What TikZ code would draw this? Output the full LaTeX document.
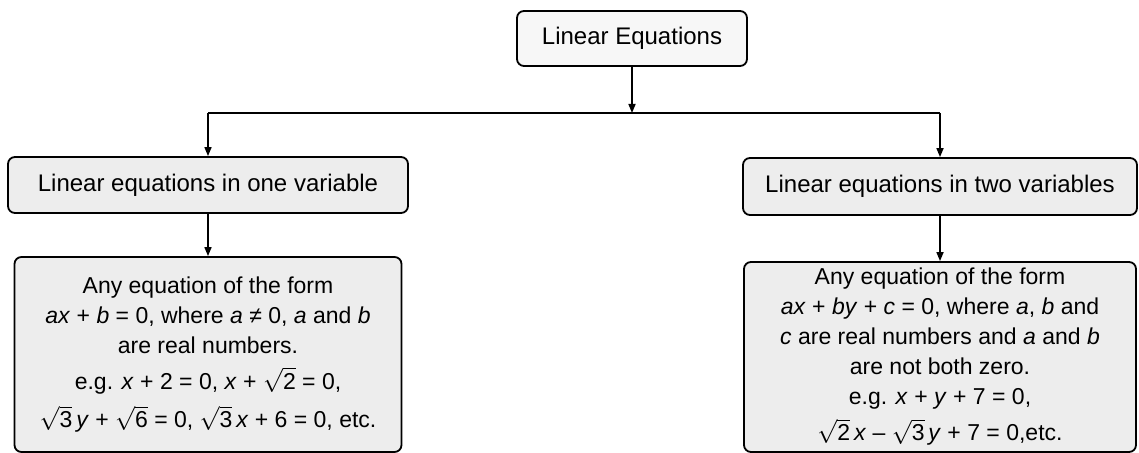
\documentclass[tikz,border=0pt]{standalone}
\usepackage{fontspec}
\setmainfont{Liberation Sans}
\usepackage{xcolor}
\usetikzlibrary{arrows.meta, positioning}

% roots and italic variables as in the printed chart
\newcommand{\rt}[1]{$\sqrt{\mbox{#1}}$}
\newcommand{\vr}[1]{\textit{#1}}

\begin{document}
\begin{tikzpicture}[x=0.5pt, y=-0.5pt,
    box/.style={draw=black, line width=0.9pt, rounded corners=3.5pt, fill=black!7, align=center, inner sep=0pt},
    headfont/.style={font=\fontsize{12}{14}\selectfont},
    bodyfont/.style={font=\fontsize{11.5}{15}\selectfont},
    link/.style={-{Triangle[length=4.5pt, width=3.5pt]}, line width=0.8pt}]
    \useasboundingbox (0,0) rectangle (1139,453);

    % Top of the chart
    \node[box, headfont, fill=black!3, minimum width=115pt, minimum height=27.5pt] (lineq) at (632,38.5) {Linear Equations};

    % The two kinds
    \node[box, headfont, minimum width=200pt, minimum height=28pt] (onevar) at (208,185) {Linear equations in one variable};
    \node[box, headfont, minimum width=197pt, minimum height=28.5pt] (twovar) at (940,186.5) {Linear equations in two variables};

    % Their general forms
    \node[box, bodyfont, minimum width=193.5pt, minimum height=97.5pt] (oneform) at (208,354.5) {%
        Any equation of the form\\
        \vr{ax} + \vr{b} = 0, where \vr{a} ≠ 0, \vr{a} and \vr{b}\\
        are real numbers.\\[3pt]
        e.g. \vr{x} + 2 = 0, \vr{x} + \rt{2} = 0,\\[4pt]
        \rt{3}\,\vr{y} + \rt{6} = 0, \rt{3}\,\vr{x} + 6 = 0, etc.};
    \node[box, bodyfont, minimum width=196pt, minimum height=95pt] (twoform) at (940,357) {%
        Any equation of the form\\
        \vr{ax} + \vr{by} + \vr{c} = 0, where \vr{a}, \vr{b} and\\
        \vr{c} are real numbers and \vr{a} and \vr{b}\\
        are not both zero.\\
        e.g. \vr{x} + \vr{y} + 7 = 0,\\[3pt]
        \rt{2}\,\vr{x} -- \rt{3}\,\vr{y} + 7 = 0,etc.};

    % Connectors
    \coordinate (bar) at (0,113);
    \draw[link] (lineq.south) -- (lineq.south |- bar);
    \draw[line width=0.8pt] (onevar.north |- bar) -- (twovar.north |- bar);
    \draw[link] (onevar.north |- bar) -- (onevar.north);
    \draw[link] (twovar.north |- bar) -- (twovar.north);
    \draw[link] (onevar.south) -- (oneform.north);
    \draw[link] (twovar.south) -- (twoform.north);
\end{tikzpicture}
\end{document}
